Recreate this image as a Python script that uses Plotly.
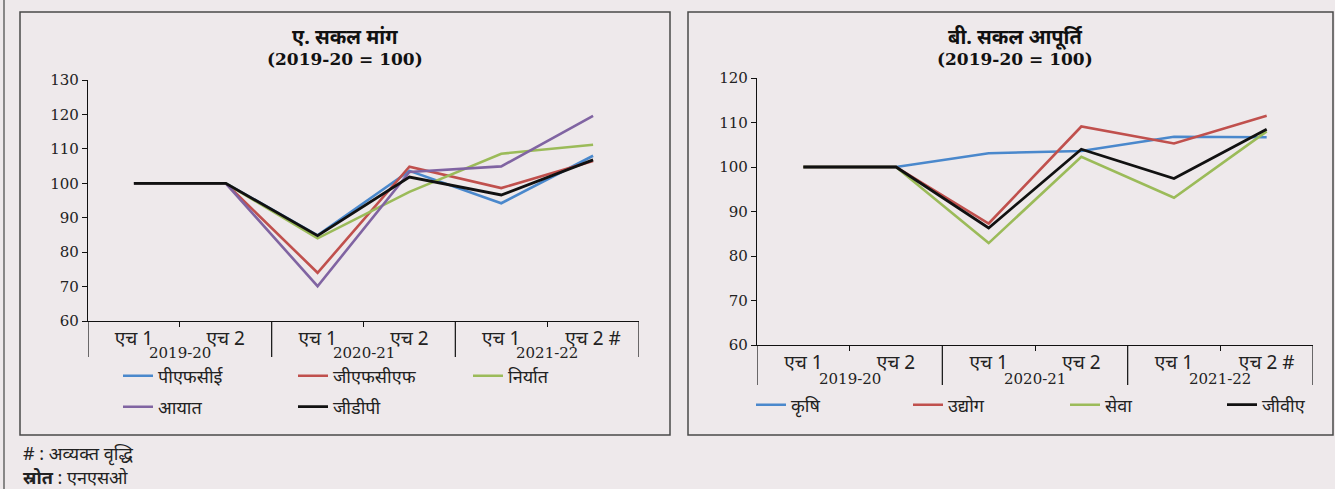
import plotly.graph_objects as go

# ---------------- data ----------------
halves = ["एच 1", "एच 2", "एच 1", "एच 2", "एच 1", "एच 2 #"]
years = ["2019-20", "2020-21", "2021-22"]
x_idx = list(range(len(halves)))

pfce = [100, 100, 84.9, 103.6, 94.2, 108.0]
gfcf = [100, 100, 74.0, 104.8, 98.6, 106.5]
exports = [100, 100, 84.0, 97.5, 108.6, 111.2]
imports = [100, 100, 70.1, 103.3, 104.9, 119.6]
gdp = [100, 100, 84.8, 101.8, 96.6, 106.8]

agri = [100, 100, 103.1, 103.6, 106.8, 106.7]
industry = [100, 100, 87.3, 109.1, 105.3, 111.5]
services = [100, 100, 82.9, 102.3, 93.1, 108.0]
gva = [100, 100, 86.3, 104.0, 97.4, 108.5]

# ---------------- style ----------------
W, H = 1335, 489
BG = "#EEE9EB"
BLUE, RED, GREEN, PURPLE, BLACK = "#4A88CC", "#C0504D", "#9BBB59", "#8064A2", "#111111"
DEV = "Noto Sans, Noto Sans Devanagari, Lato, sans-serif"
SERIF = "DejaVu Serif, Liberation Serif, serif"


def px(x):
    return x / W


def py(y):
    return 1 - y / H


fig = go.Figure()

left = [("पीएफसीई", pfce, BLUE, "legend"), ("जीएफसीएफ", gfcf, RED, "legend"),
        ("निर्यात", exports, GREEN, "legend"), ("आयात", imports, PURPLE, "legend2"),
        ("जीडीपी", gdp, BLACK, "legend2")]
right = [("कृषि", agri, BLUE), ("उद्योग", industry, RED),
         ("सेवा", services, GREEN), ("जीवीए", gva, BLACK)]

for name, vals, col, lg in left:
    fig.add_trace(go.Scatter(x=x_idx, y=vals, mode="lines", name=name,
                             line=dict(color=col, width=2.6 if col != BLACK else 2.8),
                             xaxis="x", yaxis="y", legend=lg))
for name, vals, col in right:
    fig.add_trace(go.Scatter(x=x_idx, y=vals, mode="lines", name=name,
                             line=dict(color=col, width=2.6 if col != BLACK else 2.8),
                             xaxis="x2", yaxis="y2", legend="legend3"))

xcommon = dict(range=[-0.5, 5.5], tickmode="array", tickvals=x_idx, ticktext=halves,
               ticks="", showline=True, linecolor="#111", linewidth=1.3,
               showgrid=False, zeroline=False, fixedrange=True,
               tickfont=dict(family=DEV, size=19, color="#222"),
               minor=dict(tickmode="array", tickvals=[0.5, 2.5, 4.5], ticks="outside",
                          ticklen=5, tickcolor="#111", tickwidth=1.2))
ycommon = dict(tickmode="linear", dtick=10, ticks="outside", ticklen=5, tickcolor="#111",
               showline=True, linecolor="#111", linewidth=1.3, showgrid=False,
               zeroline=False, tickfont=dict(family=SERIF, size=15, color="#222"))

legfont = dict(family=DEV, size=18, color="#222")
fig.update_layout(
    width=W, height=H, margin=dict(l=0, r=0, t=0, b=0, autoexpand=False),
    paper_bgcolor=BG, plot_bgcolor=BG, showlegend=True,
    xaxis=dict(domain=[px(88), px(639)], anchor="y", **xcommon),
    yaxis=dict(domain=[py(321), py(80)], range=[60, 130], anchor="x", **ycommon),
    xaxis2=dict(domain=[px(757), px(1313)], anchor="y2", **xcommon),
    yaxis2=dict(domain=[py(345), py(78)], range=[60, 120], anchor="x2", **ycommon),
    legend=dict(orientation="h", x=px(118), y=py(376), xanchor="left", yanchor="middle",
                entrywidth=130, entrywidthmode="pixels", bgcolor="rgba(0,0,0,0)",
                font=legfont, itemwidth=30),
    legend2=dict(orientation="h", x=px(118), y=py(407), xanchor="left", yanchor="middle",
                 entrywidth=130, entrywidthmode="pixels", bgcolor="rgba(0,0,0,0)",
                 font=legfont, itemwidth=30),
    legend3=dict(orientation="h", x=px(751), y=py(405), xanchor="left", yanchor="middle",
                 entrywidth=112, entrywidthmode="pixels", bgcolor="rgba(0,0,0,0)",
                 font=legfont, itemwidth=30),
)

shapes = []
# panel frames
shapes.append(dict(type="rect", xref="paper", yref="paper", x0=px(20), x1=px(670),
                   y0=py(435), y1=py(12), line=dict(color="#4a4a4a", width=1.5)))
shapes.append(dict(type="rect", xref="paper", yref="paper", x0=px(688), x1=px(1333),
                   y0=py(435), y1=py(12), line=dict(color="#4a4a4a", width=1.5)))
shapes.append(dict(type="line", xref="paper", yref="paper", x0=px(4), x1=px(4),
                   y0=0, y1=1, line=dict(color="#666", width=1.5)))
# group dividers below category axis
for xa, ya, depth in (("x", "y", 36 / 241), ("x2", "y2", 40 / 267)):
    for b in (-0.5, 1.5, 3.5, 5.5):
        shapes.append(dict(type="line", xref=xa, yref=ya + " domain", x0=b, x1=b,
                           y0=0, y1=-depth, line=dict(color="#111", width=1.2)))

annotations = []
for cx, t1 in ((345, "<b>ए. सकल मांग</b>"), (1015, "<b>बी. सकल आपूर्ति</b>")):
    annotations.append(dict(xref="paper", yref="paper", x=px(cx), y=py(37), text=t1,
                            showarrow=False, xanchor="center", yanchor="middle",
                            font=dict(family=DEV, size=20, color="#111")))
    annotations.append(dict(xref="paper", yref="paper", x=px(cx), y=py(59),
                            text="<b>(2019-20 = 100)</b>", showarrow=False,
                            xanchor="center", yanchor="middle",
                            font=dict(family=SERIF, size=17, color="#111")))
for xa, ya, off in (("x", "y", 32 / 241), ("x2", "y2", 34 / 267)):
    for i, yr in enumerate(years):
        annotations.append(dict(xref=xa, yref=ya + " domain", x=2 * i + 0.5, y=-off,
                                text=yr, showarrow=False, xanchor="center",
                                yanchor="middle",
                                font=dict(family=SERIF, size=15, color="#222")))
annotations.append(dict(xref="paper", yref="paper", x=px(21), y=py(453),
                        text="# : अव्यक्त वृद्धि", showarrow=False, xanchor="left",
                        yanchor="middle", font=dict(family=DEV, size=18, color="#222")))
annotations.append(dict(xref="paper", yref="paper", x=px(21), y=py(477),
                        text="<b>स्रोत</b> : एनएसओ", showarrow=False, xanchor="left",
                        yanchor="middle", font=dict(family=DEV, size=18, color="#222")))

fig.update_layout(shapes=shapes, annotations=annotations)
fig.write_html("out.html", config={"displayModeBar": False},
               post_script="document.body.style.margin='0';document.body.style.padding='0';"
                           "document.body.style.overflow='hidden';")
